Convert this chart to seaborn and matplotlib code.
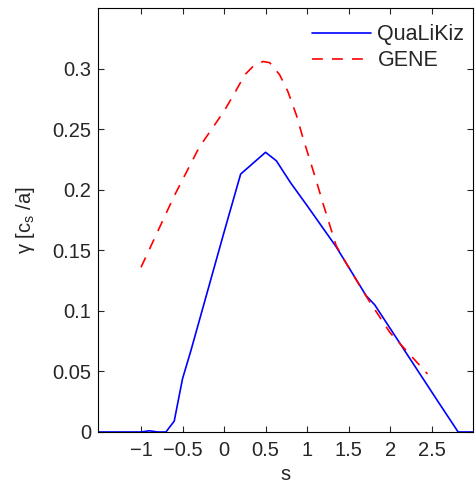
import pandas as pd
import matplotlib
matplotlib.use('Agg')
import matplotlib.pyplot as plt
import seaborn as sns

# QuaLiKiz growth rate vs magnetic shear
s_qlk = [-1.52, -1.0, -0.9, -0.8, -0.7, -0.6, -0.5, -0.4, -0.2, 0.0, 0.1, 0.2, 0.5, 0.63, 0.8,
         1.0, 1.35, 1.71, 1.815, 2.55, 2.82, 3.0]
gamma_qlk = [0.0, 0.0, 0.001, 0.0, 0.0, 0.009, 0.044, 0.067, 0.116, 0.165, 0.189, 0.213, 0.231, 0.224, 0.206,
             0.187, 0.153, 0.1127, 0.105, 0.028, 0.0, 0.0]

# GENE growth rate
s_gene = [-1.0, -0.6, -0.3, 0.0, 0.12, 0.25, 0.35, 0.47, 0.55, 0.67, 0.77, 0.87, 0.95, 1.1, 1.2,
          1.35, 1.5, 1.75, 2.0, 2.45]
gamma_gene = [0.136, 0.195, 0.235, 0.265, 0.279, 0.295, 0.302, 0.306, 0.305, 0.295, 0.281, 0.262, 0.243,
              0.21, 0.187, 0.154, 0.136, 0.108, 0.082, 0.048]

xticks = [-1, -0.5, 0, 0.5, 1, 1.5, 2, 2.5]
xticklabels = ['\u22121', '\u22120.5', '0', '0.5', '1', '1.5', '2', '2.5']
yticks = [0, 0.05, 0.1, 0.15, 0.2, 0.25, 0.3]
yticklabels = ['0', '0.05', '0.1', '0.15', '0.2', '0.25', '0.3']

sns.set_style('ticks')
plt.rcParams['font.family'] = ['Liberation Sans', 'DejaVu Sans']
plt.rcParams['mathtext.default'] = 'regular'

df_qlk = pd.DataFrame({'s': s_qlk, 'gamma': gamma_qlk})
df_gene = pd.DataFrame({'s': s_gene, 'gamma': gamma_gene})

fig = plt.figure(figsize=(4.75, 4.83), dpi=100)
ax = fig.add_axes([0.206, 0.1056, 0.790, 0.8774])

sns.lineplot(data=df_qlk, x='s', y='gamma', ax=ax, color='#0000ff', lw=1.2,
             label='QuaLiKiz', sort=False)
sns.lineplot(data=df_gene, x='s', y='gamma', ax=ax, color='#ff0000', lw=1.2,
             label='GENE', sort=False)
ax.lines[1].set_dashes((6.5, 5.5))

ax.set_xlim(-1.52, 3.0)
ax.set_ylim(0, 0.35)
ax.set_xticks(xticks)
ax.set_xticklabels(xticklabels)
ax.set_yticks(yticks)
ax.set_yticklabels(yticklabels)
ax.tick_params(direction='in', length=4, width=0.8, labelsize=14.5, top=True, right=True)
ax.tick_params(axis='x', pad=6.5)
ax.tick_params(axis='y', pad=5)
for sp in ax.spines.values():
    sp.set_linewidth(0.8)
    sp.set_color('black')

ax.set_xlabel('s', fontsize=14.5, labelpad=3.5)
ax.set_ylabel('\u03b3 [c$_s$ /a]', fontsize=14.5, labelpad=11)

leg = ax.legend(loc='upper right', bbox_to_anchor=(1.0, 0.982), frameon=False, fontsize=15.5,
                handlelength=2.75, borderaxespad=0.1, borderpad=0.3, labelspacing=0.22,
                handletextpad=0.3)

fig.savefig('out.png', dpi=100)
